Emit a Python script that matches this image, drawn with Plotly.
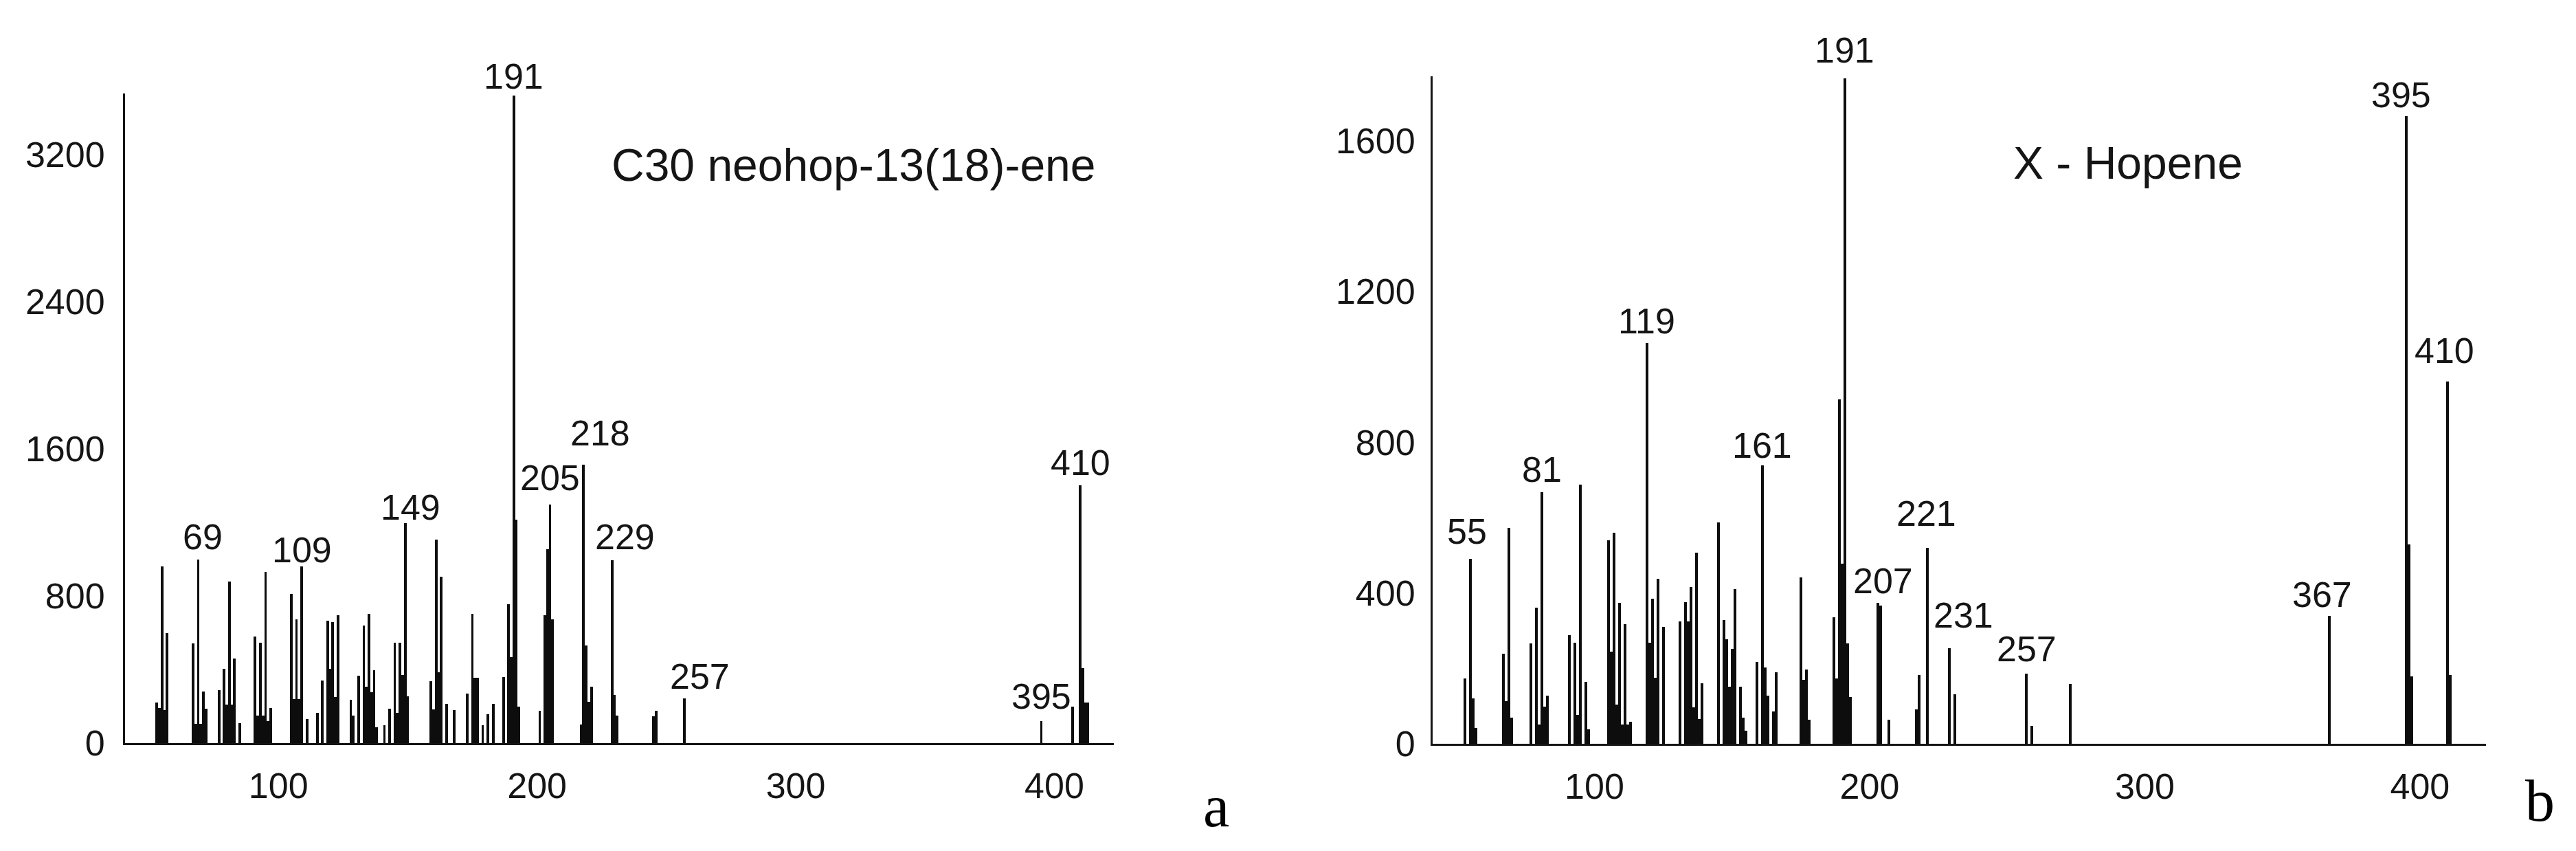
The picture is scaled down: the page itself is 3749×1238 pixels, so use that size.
import plotly.graph_objects as go

# ---------------- data: panel a (C30 neohop-13(18)-ene) ----------------
mz_a = [53, 54, 55, 56, 57,
        67, 68, 69, 70, 71, 72,
        77, 79, 80, 81, 82, 83, 85,
        91, 92, 93, 94, 95, 96, 97,
        105, 106, 107, 108, 109, 111,
        115, 117, 119, 120, 121, 122, 123,
        128, 129, 131, 133, 134, 135, 136, 137, 138, 141, 143,
        145, 146, 147, 148, 149, 150,
        159, 160, 161, 162, 163, 165, 168,
        173, 175, 176, 177, 179, 181, 183,
        187, 189, 190, 191, 192, 193,
        201, 203, 204, 205, 206,
        217, 218, 219, 220, 221,
        229, 230, 231,
        245, 246, 257, 395, 407,
        410, 411, 412, 413]
int_a = [220, 190, 960, 180, 600,
         544, 106, 1000, 106, 282, 187,
         290, 405, 210, 880, 210, 462, 110,
         580, 150, 545, 150, 930, 120, 190,
         812, 240, 672, 240, 960, 132,
         165, 340, 665, 403, 660, 250, 694,
         237, 150, 367, 640, 306, 702, 276, 396, 88, 100, 188,
         545, 164, 548, 372, 1196, 257,
         336, 185, 1108, 385, 906, 214, 182,
         270, 704, 355, 355, 100, 157, 215,
         359, 755, 469, 3520, 1215, 200,
         176, 697, 1056, 1296, 672,
         103, 1513, 531, 225, 306,
         995, 262, 152,
         147, 176, 245, 120, 200,
         1403, 408, 220, 220]
labels_a = ["69", "109", "149", "191", "205", "218", "229", "257", "395", "410"]
label_peaks_a = [69, 109, 149, 191, 205, 218, 229, 257, 395, 410]
yticks_a = [0, 800, 1600, 2400, 3200]

# ---------------- data: panel b (X - Hopene) ----------------
mz_b = [53, 55, 56, 57,
        67, 68, 69, 70,
        77, 79, 80, 81, 82, 83,
        91, 93, 94, 95, 97, 98,
        105, 106, 107, 108, 109, 110, 111, 112, 113,
        119, 120, 121, 122, 123, 125,
        131, 133, 134, 135, 136, 137, 138, 139,
        145, 147, 148, 149, 150, 151, 153, 154, 155,
        159, 161, 162, 163, 165, 166,
        175, 176, 177, 178,
        187, 188, 189, 190, 191, 192, 193,
        203, 204, 207,
        217, 218, 221, 229, 231,
        257, 259, 273, 367,
        395, 396, 397, 410, 411]
int_b = [175, 492, 122, 44,
         240, 115, 573, 70,
         267, 363, 52, 668, 100, 128,
         290, 270, 77, 689, 165, 40,
         541, 245, 561, 106, 374, 52, 318, 52, 59,
         1064, 270, 386, 177, 439, 311,
         325, 377, 325, 417, 97, 508, 66, 161,
         589, 330, 278, 152, 253, 412, 153, 71, 35,
         218, 739, 203, 128, 87, 190,
         442, 170, 199, 65,
         336, 175, 914, 479, 1765, 267, 125,
         375, 367, 65,
         92, 183, 521, 254, 132,
         188, 48, 159, 340,
         1666, 529, 180, 961, 184]
labels_b = ["55", "81", "119", "161", "191", "207", "221", "231", "257", "367", "395", "410"]
label_peaks_b = [55, 81, 119, 161, 191, 204, 221, 229, 257, 367, 395, 410]
yticks_b = [0, 400, 800, 1200, 1600]

xticks = [100, 200, 300, 400]
titles = ["C30 neohop-13(18)-ene", "X - Hopene"]
panel_letters = ["a", "b"]

# ---------------- layout / style ----------------
W, H = 3749, 1238
INK = "#151515"
SANS = "Liberation Sans, Arial, sans-serif"
SERIF = "Liberation Serif, Times New Roman, serif"

# label pixel nudges (xshift, yshift)
nudge_a = {"69": (6, 1), "109": (0, -7), "149": (8, -8), "191": (0, -3), "205": (0, 8),
           "218": (24, 15), "229": (19, 3), "257": (22, 1), "395": (0, 5), "410": (0, 2)}
nudge_b = {"55": (-5, 8), "81": (0, 2), "119": (0, 0), "161": (0, -2), "191": (0, 10),
           "207": (4, 5), "221": (-2, 18), "231": (20, 17), "257": (0, 4), "367": (-10, 0),
           "395": (-7, -1), "410": (-4, 14)}


def px_x(p):
    return p / W


def px_y(p):
    return (H - p) / H


fig = go.Figure()
fig.add_trace(go.Bar(x=mz_a, y=int_a, width=1.0, xaxis="x", yaxis="y",
                     marker=dict(color="#0d0d0d", line=dict(width=0)), showlegend=False))
fig.add_trace(go.Bar(x=mz_b, y=int_b, width=1.0, xaxis="x2", yaxis="y2",
                     marker=dict(color="#0d0d0d", line=dict(width=0)), showlegend=False))

axis_common = dict(showline=True, linewidth=3, linecolor=INK, showgrid=False,
                   zeroline=False, ticks="", tickfont=dict(family=SANS, size=52, color=INK))

fig.update_layout(
    width=W, height=H,
    margin=dict(l=0, r=0, t=0, b=0),
    paper_bgcolor="white", plot_bgcolor="white",
    bargap=0,
    xaxis=dict(domain=[px_x(174), px_x(1613)], range=[40.7, 423], anchor="y",
               tickvals=xticks, ticklabelstandoff=14, **axis_common),
    yaxis=dict(domain=[px_y(1099), px_y(131)], range=[0, 3530], anchor="x",
               tickvals=yticks_a, ticklabelstandoff=16, **axis_common),
    xaxis2=dict(domain=[px_x(2077), px_x(3610)], range=[41.2, 424], anchor="y2",
                tickvals=xticks, ticklabelstandoff=14, **axis_common),
    yaxis2=dict(domain=[px_y(1100), px_y(105)], range=[0, 1771], anchor="x2",
                tickvals=yticks_b, ticklabelstandoff=12, **axis_common),
)

annotations = []
lookup_a = dict(zip(mz_a, int_a))
for txt, m in zip(labels_a, label_peaks_a):
    dx, dy = nudge_a[txt]
    annotations.append(dict(x=m, y=lookup_a[m], xref="x", yref="y", text=txt,
                            showarrow=False, xanchor="center", yanchor="bottom",
                            xshift=dx, yshift=dy,
                            font=dict(family=SANS, size=52, color=INK)))
lookup_b = dict(zip(mz_b, int_b))
for txt, m in zip(labels_b, label_peaks_b):
    dx, dy = nudge_b[txt]
    annotations.append(dict(x=m, y=lookup_b[m], xref="x2", yref="y2", text=txt,
                            showarrow=False, xanchor="center", yanchor="bottom",
                            xshift=dx, yshift=dy,
                            font=dict(family=SANS, size=52, color=INK)))

# compound titles
annotations.append(dict(x=px_x(1234), y=px_y(238), xref="paper", yref="paper",
                        text=titles[0], showarrow=False, xanchor="center", yanchor="middle",
                        font=dict(family=SANS, size=66, color=INK)))
annotations.append(dict(x=px_x(3089), y=px_y(234), xref="paper", yref="paper",
                        text=titles[1], showarrow=False, xanchor="center", yanchor="middle",
                        font=dict(family=SANS, size=66, color=INK)))
# panel letters
annotations.append(dict(x=px_x(1762), y=px_y(1193), xref="paper", yref="paper",
                        text=panel_letters[0], showarrow=False, xanchor="center", yanchor="middle",
                        font=dict(family=SERIF, size=86, color="black")))
annotations.append(dict(x=px_x(3688), y=px_y(1185), xref="paper", yref="paper",
                        text=panel_letters[1], showarrow=False, xanchor="center", yanchor="middle",
                        font=dict(family=SERIF, size=86, color="black")))

fig.update_layout(annotations=annotations)
fig.write_html("out.html")
